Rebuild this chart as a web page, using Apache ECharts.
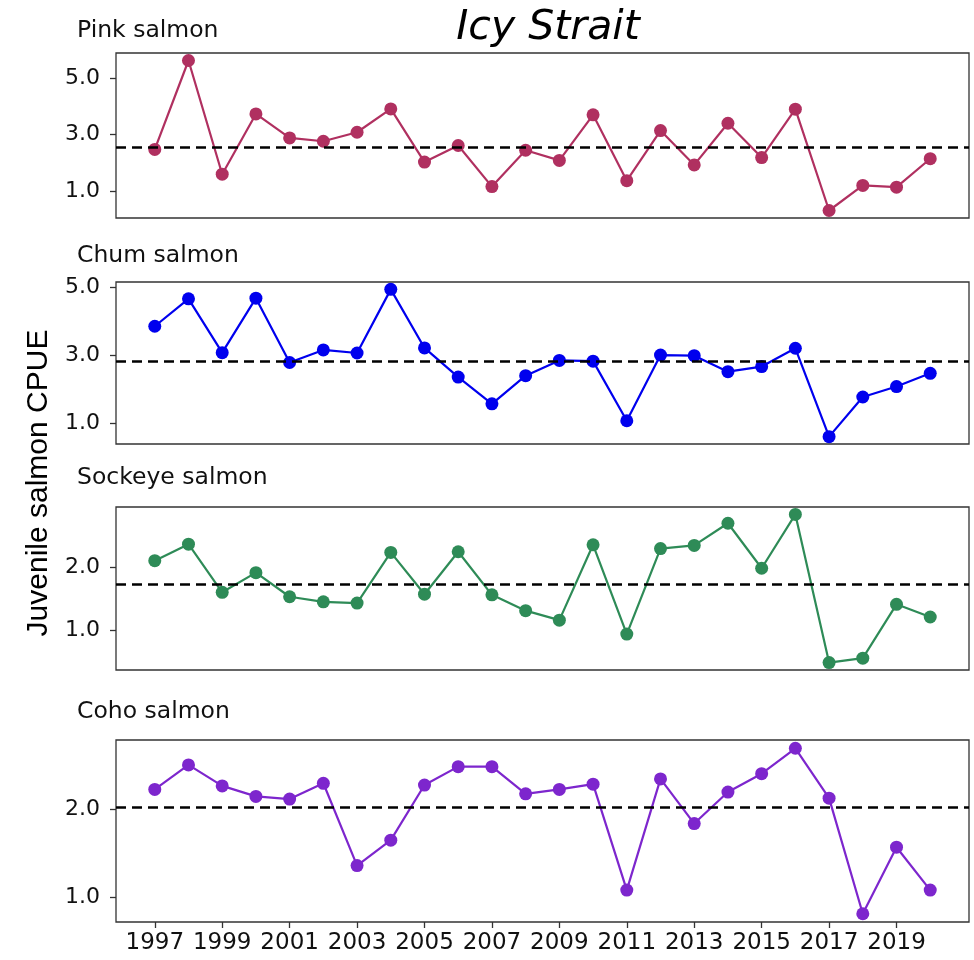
<!DOCTYPE html>
<html>
<head>
<meta charset="utf-8">
<script src="https://cdn.jsdelivr.net/npm/echarts@6/dist/echarts.min.js"></script>
<style>
html,body{margin:0;padding:0;background:#fff;}
#chart{width:974px;height:960px;}
</style>
</head>
<body>
<div id="chart"></div>
<script>
// ---- data ----
var years = [1997,1998,1999,2000,2001,2002,2003,2004,2005,2006,2007,2008,2009,2010,2011,2012,2013,2014,2015,2016,2017,2018,2019,2020];
var pink    = [2.47,5.63,1.59,3.73,2.88,2.76,3.08,3.91,2.02,2.61,1.15,2.44,2.08,3.70,1.36,3.14,1.92,3.40,2.18,3.90,0.30,1.19,1.13,2.14];
var chum    = [3.86,4.67,3.08,4.69,2.79,3.16,3.07,4.95,3.22,2.36,1.57,2.40,2.85,2.83,1.07,3.01,2.99,2.52,2.67,3.21,0.60,1.77,2.08,2.47];
var sockeye = [2.10,2.36,1.60,1.91,1.53,1.45,1.43,2.23,1.57,2.24,1.56,1.31,1.16,2.35,0.94,2.29,2.34,2.69,1.98,2.83,0.49,0.56,1.41,1.21];
var coho    = [2.23,2.51,2.27,2.15,2.12,2.30,1.36,1.65,2.28,2.49,2.49,2.18,2.23,2.29,1.08,2.35,1.84,2.20,2.41,2.70,2.13,0.81,1.57,1.08];
var means   = [2.55, 2.83, 1.73, 2.03];
var panelNames = ['Pink salmon','Chum salmon','Sockeye salmon','Coho salmon'];
var yTicks = [[1,3,5],[1,3,5],[1,2],[1,2]];
var xTicks = [1997,1999,2001,2003,2005,2007,2009,2011,2013,2015,2017,2019];
var titleText = 'Icy Strait';
var yAxisTitle = 'Juvenile salmon CPUE';

// ---- styling / layout ----
var seriesData = [pink, chum, sockeye, coho];
var colors = ['#B03060','#0000EE','#2E8B57','#7D26CD'];
var gridTops = [53, 282, 507, 740];
var gridHeights = [165, 162, 163, 182];
var titleY = [33, 258, 480, 714];
var TXT = "'DejaVu Sans', sans-serif";

function expand(arr){
  var mn = Math.min.apply(null, arr), mx = Math.max.apply(null, arr);
  var d = (mx - mn) * 0.05;
  return [mn - d, mx + d];
}
var xr = expand(years);

var grids = [], xAxes = [], yAxes = [], series = [], graphics = [];
for (var i = 0; i < 4; i++) {
  grids.push({left:116, right:5, top:gridTops[i], height:gridHeights[i], show:true,
    borderColor:'#333', borderWidth:1.3, backgroundColor:'#fff', containLabel:false});
  var last = (i === 3);
  xAxes.push({type:'value', gridIndex:i, min:xr[0], max:xr[1],
    axisLine:{show:false}, splitLine:{show:false},
    axisTick:{show:last, length:6, lineStyle:{color:'#333', width:1.3}, customValues:xTicks},
    axisLabel:{show:last, customValues:xTicks, margin:10, color:'#111', fontSize:23, fontFamily:TXT,
      formatter:function(v){return String(Math.round(v));}}
  });
  var yr = expand(seriesData[i]);
  yAxes.push({type:'value', gridIndex:i, min:yr[0], max:yr[1],
    axisLine:{show:false}, splitLine:{show:false},
    axisTick:{show:true, length:6, lineStyle:{color:'#333', width:1.3}, customValues:yTicks[i]},
    axisLabel:{customValues:yTicks[i], margin:16, color:'#111', fontSize:22, fontFamily:TXT,
      formatter:function(v){return v.toFixed(1);}}
  });
  var pts = years.map(function(y, k){ return [y, seriesData[i][k]]; });
  series.push({type:'line', xAxisIndex:i, yAxisIndex:i, data:pts,
    symbol:'circle', symbolSize:13, showSymbol:true,
    lineStyle:{color:colors[i], width:2.2}, itemStyle:{color:colors[i]},
    animation:false, z:2,
    markLine:{silent:true, symbol:['none','none'], label:{show:false}, z:5,
      lineStyle:{color:'#000', width:2.5, type:[10,6]},
      data:[{yAxis:means[i]}]}
  });
  graphics.push({type:'text', left:77, top:titleY[i] - 14,
    style:{text:panelNames[i], fill:'#111', font:"23.5px 'DejaVu Sans', sans-serif"}});
}
graphics.push({type:'text', x:548, y:28,
  style:{text:titleText, fill:'#000', font:"italic 41px 'DejaVu Sans', sans-serif", align:'center', verticalAlign:'middle'}});
graphics.push({type:'text', x:39, y:483, rotation:Math.PI/2,
  style:{text:yAxisTitle, fill:'#000', font:"30px 'Liberation Sans', Arial, sans-serif", align:'center', verticalAlign:'middle'}});

var chart = echarts.init(document.getElementById('chart'), null, {renderer:'canvas'});
chart.setOption({
  animation:false,
  backgroundColor:'#fff',
  grid:grids, xAxis:xAxes, yAxis:yAxes, series:series, graphic:graphics
});
</script>
</body>
</html>
